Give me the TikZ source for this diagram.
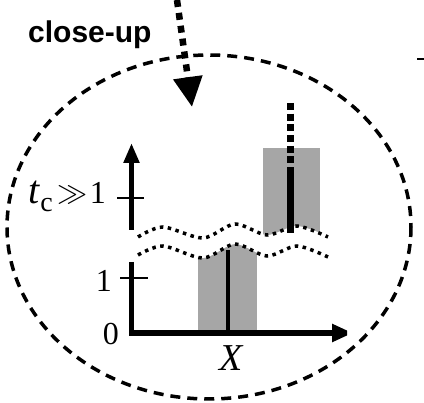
\documentclass[tikz,border=0pt]{standalone}
\usepackage{fontspec}
\setmainfont{Liberation Serif}
\setsansfont{Liberation Sans}
\usetikzlibrary{arrows.meta}
\definecolor{bargray}{RGB}{166,166,166}
\begin{document}
\begin{tikzpicture}[x=1pt,y=-1pt,
  axisline/.style={line width=5.5pt},
  tickline/.style={line width=2pt},
  oval/.style={line width=3.5pt, dash pattern=on 10pt off 7pt},
  wavy/.style={line width=3.5pt, dash pattern=on 3.5pt off 4.5pt},
  bigdots/.style={line width=6.5pt, dash pattern=on 7pt off 6pt},
  bardots/.style={line width=7pt, dash pattern=on 7pt off 3.7pt},
  bar/.style={fill=bargray},
  lbl/.style={inner sep=0pt, font=\fontsize{32}{32}\selectfont}]
\useasboundingbox (0,0) rectangle (424,403);

% close-up ellipse
\draw[oval] (209,227) ellipse [x radius=202, y radius=172];

% bars
\fill[bar] (263,148) rectangle (320,245);
\fill[bar] (198,238) rectangle (257,333);

% white break band
\fill[white] plot[smooth] coordinates {(136,237) (163,227) (203,238) (235,224) (267,235) (297,226) (330,237)}
  -- plot[smooth] coordinates {(330,257) (297,246) (267,256) (235,244) (203,258) (163,246) (136,255)} -- cycle;

% coordinates
\coordinate (o) at (131.5,333);
\coordinate (ytip) at (131.5,143);
\coordinate (ybreakhi) at (131.5,230);
\coordinate (ybreaklo) at (131.5,262);
\coordinate (xtip) at (353,333);
\coordinate (arrtop) at (177,0);
\coordinate (arrtip) at (192,107);
\coordinate (ubtop) at (290.5,103);
\coordinate (ubmid) at (290.5,170);
\coordinate (ubbot) at (290.5,233);
\coordinate (lbtop) at (228,250);
\coordinate (lbbot) at (228,333);

% bar lines
\draw[line width=4.5pt] (lbtop) -- (lbbot);
\draw[bardots] (ubtop) -- (ubmid);
\draw[line width=6.5pt] (ubmid) -- (ubbot);

% wavy break lines
\draw[wavy] plot[smooth] coordinates {(138,237) (163,227) (203,238) (235,224) (267,235) (297,226) (328,237)};
\draw[wavy] plot[smooth] coordinates {(138,255) (163,246) (203,258) (235,244) (267,256) (297,246) (328,257)};

% axes
\draw[axisline, -{Triangle[length=20pt,width=15pt]}] (ybreakhi) -- (ytip);
\draw[axisline, miter limit=2, -{Triangle[length=21pt,width=17pt]}] (ybreaklo) -- (o) -- (xtip);

% ticks
\coordinate (t1a) at (117,198); \coordinate (t1b) at (144,198);
\coordinate (t2a) at (120,278); \coordinate (t2b) at (148,278);
\draw[tickline] (t1a) -- (t1b);
\draw[tickline] (t2a) -- (t2b);

% labels
\node[lbl, anchor=base east] (ltc) at (106,204)
  {{\fontsize{40}{40}\selectfont\itshape t}\kern0.5pt\raisebox{-8pt}{\fontsize{28}{28}\selectfont c}\kern5pt\raisebox{1pt}{\scalebox{1.45}{\fontsize{20.74}{20.74}\selectfont$\gg$}}\kern2pt 1};
\node[lbl, anchor=base east] (lone) at (112,292) {1};
\node[lbl, anchor=base east] (lzero) at (119,345) {0};
\node[inner sep=0pt, anchor=base, font=\fontsize{38}{38}\selectfont\itshape] (lx) at (231,371) {X};
\node[inner sep=0pt, anchor=base west, font=\fontsize{30}{30}\selectfont\sffamily\bfseries] (lcu) at (28,43) {close-up};

% dotted close-up arrow
\draw[bigdots, -{Triangle[length=30pt,width=28pt]}] (arrtop) -- (arrtip);

% stray mark at top right
\coordinate (sa) at (417,59); \coordinate (sb) at (424,59);
\draw[line width=2pt] (sa) -- (sb);
\end{tikzpicture}
\end{document}
